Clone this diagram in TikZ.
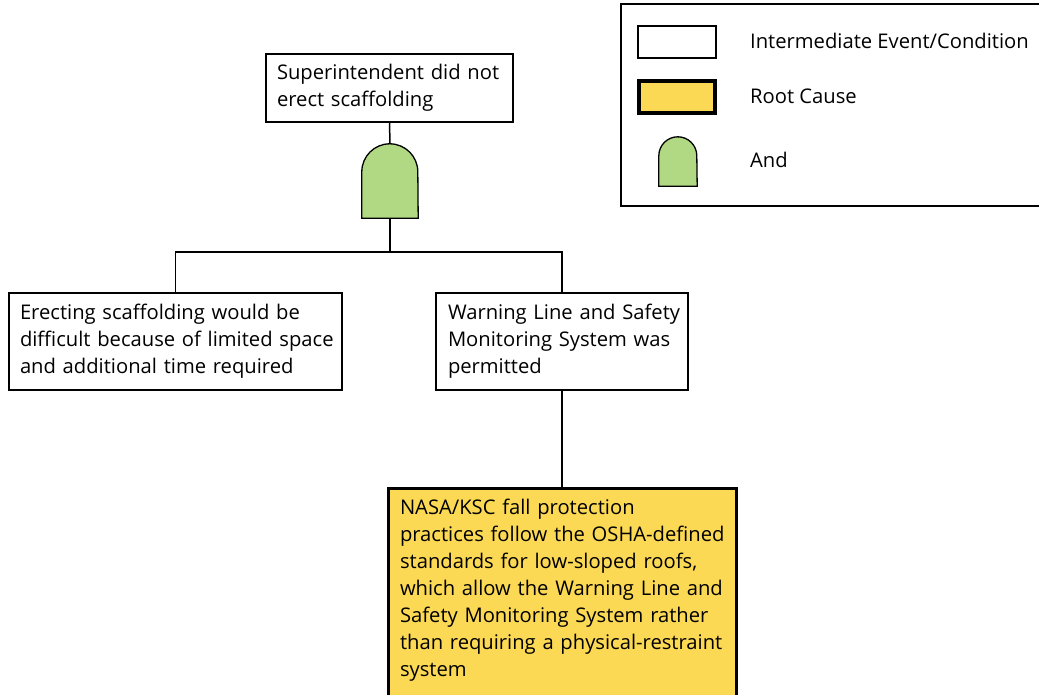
\documentclass[tikz,border=0pt]{standalone}
\usepackage{fontspec}
\setmainfont{Open Sans}
\definecolor{gategreen}{HTML}{B1D883}
\definecolor{rootyellow}{HTML}{FCD955}
\begin{document}
\begin{tikzpicture}[x=1pt,y=-1pt,
  txt/.style={font=\fontsize{20.2}{27}\selectfont},
  box/.style={txt, draw=black, line width=1.3pt, fill=white, align=left, inner xsep=11pt, inner ysep=0pt},
  rootbox/.style={box, fill=rootyellow, line width=3pt},
  gatebox/.style={inner sep=0pt, minimum width=#1},
  gatefill/.style={draw=black, line width=1.3pt, fill=gategreen},
  conn/.style={line width=1.5pt}
]
\clip (0,0) rectangle (1039,694);
\fill[white] (0,0) rectangle (1039,694);

% legend
\node[draw=black, line width=1.5pt, minimum width=430, minimum height=202, inner sep=0pt] (legend) at (836,105) {};
\node[box, minimum width=78, minimum height=32] (lgint) at (677,42) {};
\node[rootbox, line width=3.5pt, minimum width=76, minimum height=32] (lgroot) at (677,97) {};
\node[gatebox=38, minimum height=49] (lggate) at (678,161.5) {};
\path[gatefill] (lggate.south west) -- ([yshift=-19pt]lggate.north west) arc[start angle=180, end angle=0, radius=19pt] -- (lggate.south east) -- cycle;
\node[txt, anchor=base west, inner sep=0pt] (lgintt) at (750,48) {Intermediate Event/Condition};
\node[txt, anchor=base west, inner sep=0pt] (lgroott) at (750,103) {Root Cause};
\node[txt, anchor=base west, inner sep=0pt] (lggatet) at (750,167) {And};

% tree
\node[box, minimum width=247, minimum height=68, text width=225] (top) at (389.5,88) {\mbox{Superintendent did not}\\\mbox{erect scaffolding}};
\node[gatebox=56, minimum height=74] (gate) at (390,181) {};
\path[gatefill] (gate.south west) -- ([yshift=-28pt]gate.north west) arc[start angle=180, end angle=0, radius=28pt] -- (gate.south east) -- cycle;

\node[box, minimum width=333, minimum height=97, text width=311] (left) at (175.5,341.5) {\mbox{Erecting scaffolding would be}\\\mbox{difficult because of limited space}\\\mbox{and additional time required}};
\node[box, minimum width=252, minimum height=97, text width=228, inner xsep=12pt] (right) at (562,341.5) {\mbox{Warning Line and Safety}\\\mbox{Monitoring System was}\\\mbox{permitted}};
\node[rootbox, anchor=north, text width=324, inner xsep=12pt, inner ysep=11pt] (root) at (562,487) {\parbox[c][240pt][t]{324pt}{\raggedright \mbox{NASA/KSC fall protection}\\\mbox{practices follow the OSHA-defined}\\\mbox{standards for low-sloped roofs,}\\\mbox{which allow the Warning Line and}\\\mbox{Safety Monitoring System rather}\\\mbox{than requiring a physical-restraint}\\\mbox{system}}};

\coordinate (split) at (390,252);
\draw[conn] (top.south) -- (gate.north);
\draw[conn] (gate.south) -- (split);
\draw[conn] (left.north) |- (split) -| (right.north);
\draw[conn] (right.south) -- (root.north);
\end{tikzpicture}
\end{document}
